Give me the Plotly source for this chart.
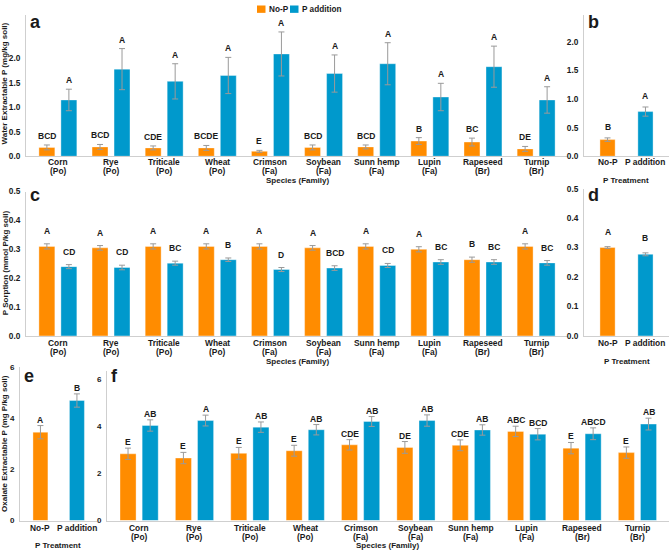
import plotly.graph_objects as go

species = ["Corn", "Rye", "Triticale", "Wheat", "Crimson", "Soybean", "Sunn hemp", "Lupin", "Rapeseed", "Turnip"]
family = ["(Po)", "(Po)", "(Po)", "(Po)", "(Fa)", "(Fa)", "(Fa)", "(Fa)", "(Br)", "(Br)"]
treatments = ["No-P", "P addition"]

# Panel a: water extractable P by species
wep_nop = [0.18, 0.19, 0.17, 0.17, 0.10, 0.18, 0.19, 0.31, 0.29, 0.15]
wep_nop_err = [0.05, 0.05, 0.04, 0.05, 0.02, 0.05, 0.04, 0.07, 0.08, 0.05]
wep_p = [1.15, 1.78, 1.53, 1.65, 2.09, 1.69, 1.89, 1.21, 1.83, 1.15]
wep_p_err = [0.22, 0.42, 0.36, 0.37, 0.45, 0.38, 0.43, 0.28, 0.42, 0.27]
wep_nop_lab = ["BCD", "BCD", "CDE", "BCDE", "E", "BCD", "BCD", "B", "BC", "DE"]
wep_p_lab = ["A"] * 10
# Panel b
wep_trt = [0.29, 0.78]
wep_trt_err = [0.03, 0.08]
wep_trt_lab = ["B", "A"]

# Panel c: P sorption
ps_nop = [0.310, 0.305, 0.310, 0.310, 0.310, 0.305, 0.310, 0.300, 0.264, 0.310]
ps_nop_err = [0.009, 0.008, 0.009, 0.009, 0.009, 0.008, 0.009, 0.009, 0.009, 0.009]
ps_p = [0.240, 0.237, 0.252, 0.264, 0.230, 0.235, 0.244, 0.256, 0.256, 0.253]
ps_p_err = [0.007, 0.008, 0.007, 0.006, 0.007, 0.008, 0.007, 0.008, 0.008, 0.008]
ps_nop_lab = ["A", "A", "A", "A", "A", "A", "A", "A", "B", "A"]
ps_p_lab = ["CD", "CD", "BC", "B", "D", "BCD", "CD", "BC", "BC", "BC"]
# Panel d
ps_trt = [0.300, 0.277]
ps_trt_err = [0.003, 0.005]
ps_trt_lab = ["A", "B"]

# Panel e
ox_trt = [3.46, 4.70]
ox_trt_err = [0.26, 0.26]
ox_trt_lab = ["A", "B"]
# Panel f
ox_nop = [2.83, 2.65, 2.85, 2.96, 3.21, 3.10, 3.19, 3.78, 3.07, 2.88]
ox_nop_err = [0.24, 0.24, 0.25, 0.23, 0.22, 0.25, 0.23, 0.22, 0.24, 0.24]
ox_p = [4.03, 4.24, 3.96, 3.85, 4.20, 4.24, 3.84, 3.66, 3.68, 4.09]
ox_p_err = [0.24, 0.23, 0.22, 0.22, 0.21, 0.24, 0.22, 0.24, 0.25, 0.25]
ox_nop_lab = ["E", "E", "E", "E", "CDE", "DE", "CDE", "ABC", "E", "E"]
ox_p_lab = ["AB", "A", "AB", "AB", "AB", "AB", "AB", "BCD", "ABCD", "AB"]

ORANGE = "#FF8C00"
BLUE = "#0099CC"
ERRC = "#9a9a9a"
TXT = "#1a1a1a"
FONT = "Liberation Sans, Arial, sans-serif"

W, H = 669, 554


def px(x):
    return x / W


def py(y):
    return 1 - y / H


fig = go.Figure()
annotations = []
shapes = []


def ax_suffix(n):
    return "" if n == 1 else str(n)


def cat_labels(n, lines, shifts):
    s = ax_suffix(n)
    for line, sh in zip(lines, shifts):
        for i, t in enumerate(line):
            annotations.append(dict(x=i, y=0, xref="x" + s, yref="y" + s, text="<b>" + t + "</b>",
                                    showarrow=False, yanchor="middle", yshift=sh,
                                    font=dict(size=8.4, color=TXT, family=FONT)))


def add_species_panel(n, nop, nop_err, pv, p_err, nop_lab, p_lab, half, width, shift, lab_shift):
    s = ax_suffix(n)
    for vals, errs, col, name, sign, labs in [(nop, nop_err, ORANGE, "No-P", -1, nop_lab),
                                             (pv, p_err, BLUE, "P addition", 1, p_lab)]:
        fig.add_trace(go.Bar(
            x=species, y=vals, name=name, marker_color=col,
            marker_line=dict(width=0.6, color="rgba(255,255,255,0.6)"),
            width=width, offset=sign * half - width / 2,
            error_y=dict(type="data", array=errs, color=ERRC, thickness=1, width=3),
            xaxis="x" + s, yaxis="y" + s, showlegend=False))
        for i, (v, e, t) in enumerate(zip(vals, errs, labs)):
            annotations.append(dict(x=i + sign * half, y=v + e, xref="x" + s, yref="y" + s,
                                    text="<b>" + t + "</b>", showarrow=False, yanchor="middle",
                                    yshift=shift, font=dict(size=8.5, color=TXT, family=FONT)))
    cat_labels(n, [species, family], lab_shift)


def add_trt_panel(n, vals, errs, labs, width, shift, lab_shift):
    s = ax_suffix(n)
    fig.add_trace(go.Bar(
        x=treatments, y=vals, marker_color=[ORANGE, BLUE],
        marker_line=dict(width=0.6, color="rgba(255,255,255,0.6)"),
        width=width,
        error_y=dict(type="data", array=errs, color=ERRC, thickness=1, width=3),
        xaxis="x" + s, yaxis="y" + s, showlegend=False))
    for i, (v, e, t) in enumerate(zip(vals, errs, labs)):
        annotations.append(dict(x=i, y=v + e, xref="x" + s, yref="y" + s,
                                text="<b>" + t + "</b>", showarrow=False, yanchor="middle",
                                yshift=shift, font=dict(size=8.5, color=TXT, family=FONT)))
    cat_labels(n, [treatments], lab_shift)


add_species_panel(1, wep_nop, wep_nop_err, wep_p, wep_p_err, wep_nop_lab, wep_p_lab, 0.207, 0.30, 9, [-6, -15])
add_trt_panel(2, wep_trt, wep_trt_err, wep_trt_lab, 0.40, 11, [-6])
add_species_panel(3, ps_nop, ps_nop_err, ps_p, ps_p_err, ps_nop_lab, ps_p_lab, 0.207, 0.30, 13, [-7, -16])
add_trt_panel(4, ps_trt, ps_trt_err, ps_trt_lab, 0.40, 15, [-7])
add_trt_panel(5, ox_trt, ox_trt_err, ox_trt_lab, 0.41, 6, [-7])
add_species_panel(6, ox_nop, ox_nop_err, ox_p, ox_p_err, ox_nop_lab, ox_p_lab, 0.20, 0.29, 6, [-7.5, -16.5])

axis_common = dict(showline=True, linecolor="#cfcfcf", linewidth=1, showgrid=False, zeroline=False,
                   ticks="")

panels = {
    1: dict(xd=[px(26), px(568)], yd=[py(154), py(10)], xr=[-0.6, 9.6], yr=[0, 2.89],
            tv=[0, 0.5, 1.0, 1.5, 2.0], fmt=".1f"),
    2: dict(xd=[px(584), 1.0], yd=[py(154), py(10)], xr=[-0.62, 1.62], yr=[0, 2.47],
            tv=[0, 0.5, 1.0, 1.5, 2.0], fmt=".1f"),
    3: dict(xd=[px(26), px(568)], yd=[py(337), py(190)], xr=[-0.6, 9.6], yr=[0, 0.5],
            tv=[0, 0.1, 0.2, 0.3, 0.4, 0.5], fmt=".1f"),
    4: dict(xd=[px(584), 1.0], yd=[py(337), py(187)], xr=[-0.62, 1.62], yr=[0, 0.5],
            tv=[0, 0.1, 0.2, 0.3, 0.4, 0.5], fmt=".1f"),
    5: dict(xd=[px(20), px(97)], yd=[py(525), py(369)], xr=[-0.56, 1.55], yr=[0, 6],
            tv=[0, 2, 4, 6], fmt="d"),
    6: dict(xd=[px(107), 1.0], yd=[py(525), py(373)], xr=[-0.58, 9.57], yr=[0, 6.33],
            tv=[0, 2, 4, 6], fmt="d"),
}

layout_axes = {}
for n, p in panels.items():
    s = ax_suffix(n)
    layout_axes["xaxis" + s] = dict(axis_common, domain=p["xd"], range=p["xr"], anchor="y" + s,
                                    type="category", showticklabels=False)
    yfont = dict(size=8.3 if n < 5 else 8, color=TXT, family=FONT, weight="bold")
    layout_axes["yaxis" + s] = dict(axis_common, domain=p["yd"], range=p["yr"], anchor="x" + s,
                                    tickvals=p["tv"], tickformat=p["fmt"], tickfont=yfont,
                                    ticklabelstandoff=3)

fig.update_layout(**layout_axes)

# Panel letters
for n, (x, y) in {1: (28, 17), 2: (586, 17), 3: (28, 194), 4: (586, 193), 5: (22, 378), 6: (109, 378)}.items():
    annotations.append(dict(x=px(x), y=py(y), xref="paper", yref="paper", text="<b>" + "abcdef"[n - 1] + "</b>",
                            showarrow=False, xanchor="left", yanchor="middle",
                            font=dict(size=18, color=TXT, family=FONT)))


def title(x, y, text, angle=0):
    annotations.append(dict(x=px(x), y=py(y), xref="paper", yref="paper", text="<b>" + text + "</b>",
                            showarrow=False, xanchor="center", yanchor="middle", textangle=angle,
                            font=dict(size=8, color=TXT, family=FONT)))


title(5, 80, "Water Extractable P (mg/kg soil)", -90)
title(5, 263, "P Sorption (mmol P/kg soil)", -90)
title(5, 447, "Oxalate Extractable P (mg P/kg soil)", -90)
title(297, 178.5, "Species (Family)")
title(626, 178.5, "P Treatment")
title(297, 363, "Species (Family)")
title(627, 363, "P Treatment")
title(58, 550, "P Treatment")
title(387, 550.5, "Species (Family)")

# Legend (drawn as keys and labels)
legend_items = [("No-P", ORANGE, 257, 266.5), ("P addition", BLUE, 290, 299.5)]
for name, col, x0, tx in legend_items:
    shapes.append(dict(type="rect", xref="paper", yref="paper", x0=px(x0), x1=px(x0 + 8.5),
                       y0=py(8), y1=py(0.5), fillcolor=col, line=dict(width=0)))
    annotations.append(dict(x=px(tx), y=py(4.5), xref="paper", yref="paper", text="<b>" + name + "</b>",
                            showarrow=False, xanchor="left", yanchor="middle",
                            font=dict(size=8.2, color=TXT, family=FONT)))

fig.update_layout(
    width=W, height=H, margin=dict(l=0, r=0, t=0, b=0),
    plot_bgcolor="white", paper_bgcolor="white",
    font=dict(family=FONT, color=TXT),
    annotations=annotations, shapes=shapes,
    showlegend=False,
    barmode="overlay",
)

fig.write_html("out.html")
